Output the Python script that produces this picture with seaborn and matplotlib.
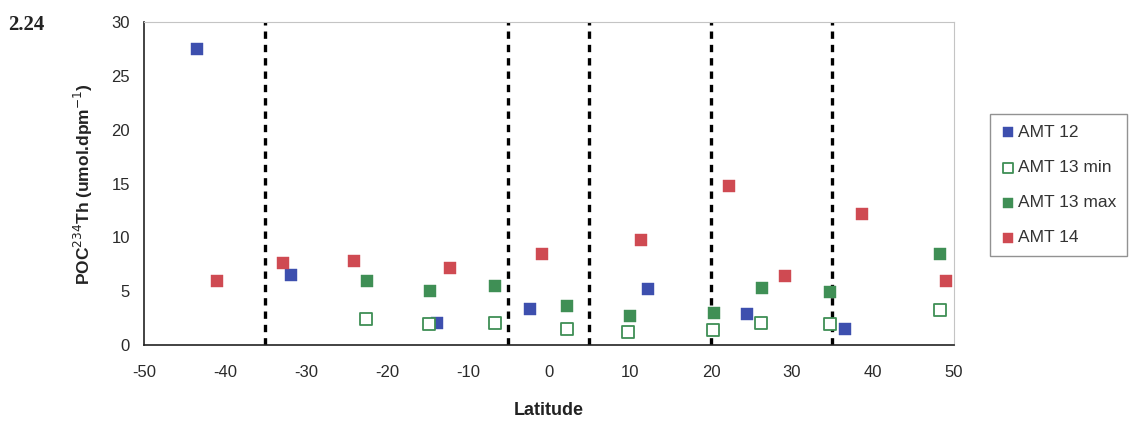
import matplotlib
matplotlib.use("Agg")
import matplotlib.pyplot as plt
import seaborn as sns
import pandas as pd

sns.set_theme(style="white")
plt.rcParams["font.family"] = ["Liberation Sans", "DejaVu Sans"]
plt.rcParams["axes.unicode_minus"] = False

# POC:234Th ratios by latitude for each cruise
amt12_lat = [-43.5, -31.8, -13.8, -2.3, 12.2, 24.4, 36.5]
amt12_val = [27.5, 6.5, 2.1, 3.4, 5.2, 2.9, 1.5]

amt13min_lat = [-22.6, -14.8, -6.7, 2.2, 9.8, 20.3, 26.2, 34.7, 48.3]
amt13min_val = [2.4, 2.0, 2.1, 1.5, 1.2, 1.4, 2.1, 2.0, 3.3]

amt13max_lat = [-22.5, -14.7, -6.7, 2.2, 10.0, 20.4, 26.3, 34.7, 48.3]
amt13max_val = [6.0, 5.0, 5.5, 3.6, 2.7, 3.0, 5.3, 4.9, 8.5]

amt14_lat = [-41.0, -32.8, -24.1, -12.2, -0.9, 11.4, 22.2, 29.1, 38.6, 49.0]
amt14_val = [6.0, 7.6, 7.8, 7.2, 8.5, 9.8, 14.8, 6.4, 12.2, 6.0]

# Province boundaries (latitude)
boundaries = [-35, -5, 5, 20, 35]

x_ticks = [-50, -40, -30, -20, -10, 0, 10, 20, 30, 40, 50]
y_ticks = [0, 5, 10, 15, 20, 25, 30]

series = [
    ("AMT 12", amt12_lat, amt12_val, "#3d4fae", True),
    ("AMT 13 min", amt13min_lat, amt13min_val, "#3f8f55", False),
    ("AMT 13 max", amt13max_lat, amt13max_val, "#3f8f55", True),
    ("AMT 14", amt14_lat, amt14_val, "#cf4a52", True),
]

fig = plt.figure(figsize=(11.33, 4.24), dpi=100)
ax = fig.add_axes([0.127, 0.186, 0.715, 0.762])

for b in boundaries:
    ax.axvline(b, color="black", linestyle=(0, (2.2, 1.8)), linewidth=2.4, zorder=1)

for name, lat, val, color, filled in series:
    df = pd.DataFrame({"Latitude": lat, "value": val})
    sns.scatterplot(
        data=df, x="Latitude", y="value", ax=ax, marker="s", s=82,
        color=color if filled else "white",
        edgecolor=color, linewidth=1.3 if not filled else 0.3,
        label=name, zorder=3,
    )

ax.set_xlim(-50, 50)
ax.set_ylim(0, 30)
ax.set_xticks(x_ticks)
ax.set_yticks(y_ticks)
ax.tick_params(axis="both", direction="out", length=4, width=1, color="black",
               labelsize=12, labelcolor="#2a2a2a", pad=6)
ax.tick_params(axis="x", pad=10)

for side in ["left", "bottom"]:
    ax.spines[side].set_color("#222222")
    ax.spines[side].set_linewidth(1.2)
for side in ["top", "right"]:
    ax.spines[side].set_color("#c4c4c4")
    ax.spines[side].set_linewidth(0.8)

ax.set_xlabel("Latitude", fontsize=13, fontweight="bold", labelpad=16, color="#222222")
ax.set_ylabel("POC$^{234}$Th (umol.dpm$^{-1}$)", fontsize=12.5, fontweight="bold",
              labelpad=12, color="#222222")

handles, labels = ax.get_legend_handles_labels()
ax.get_legend().remove()
leg = fig.legend(handles, labels, loc="upper left", bbox_to_anchor=(0.874, 0.73),
                 frameon=True, fancybox=False, fontsize=12.5, markerscale=0.72,
                 handletextpad=0.2, labelspacing=1.15, borderpad=0.6,
                 handlelength=0.8, borderaxespad=0)
leg.get_frame().set_edgecolor("#777777")
leg.get_frame().set_linewidth(1.0)
for t in leg.get_texts():
    t.set_color("#333333")

fig.text(0.007, 0.93, "2.24", fontsize=15, fontweight="bold",
         family=["Liberation Serif", "DejaVu Serif"], color="#222222")

fig.savefig("out.png", dpi=100)
